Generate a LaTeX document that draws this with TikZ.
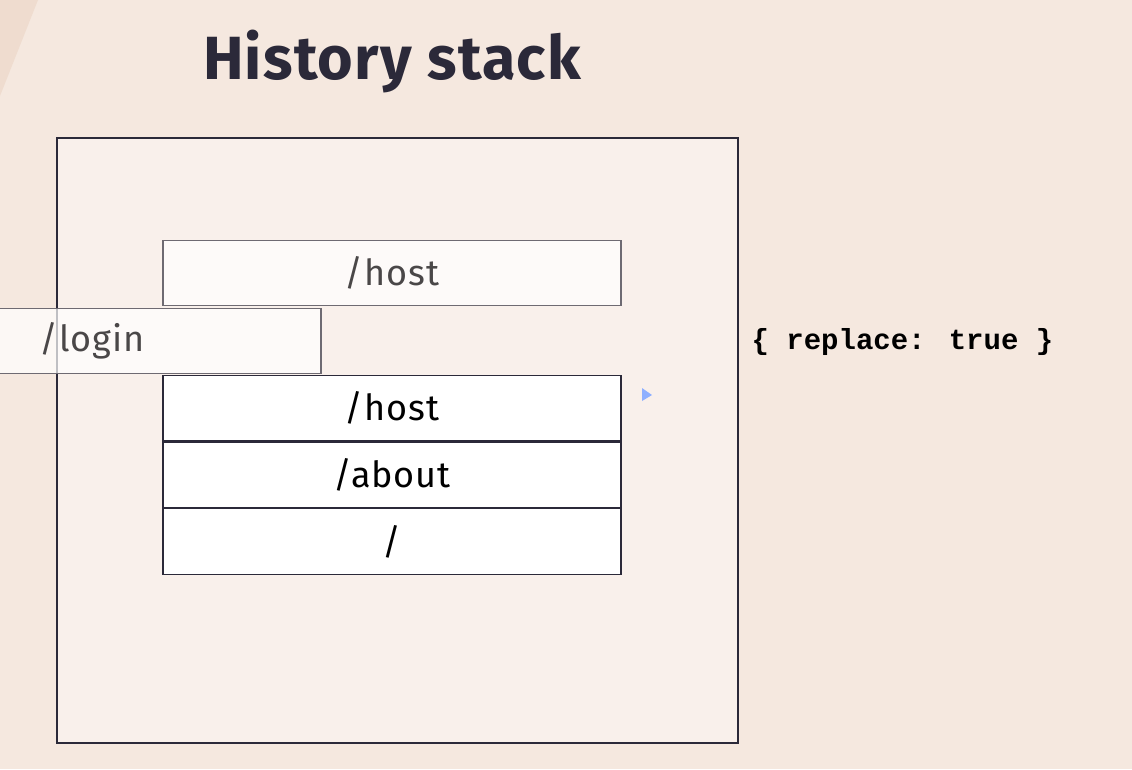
\documentclass[tikz,border=0pt]{standalone}
\usepackage{fontspec}
\setmainfont{Fira Sans}
\newfontfamily\codefont{Liberation Mono}
\newfontfamily\labelfont[LetterSpace=2.5]{Fira Sans}
\newfontfamily\headfont[LetterSpace=2]{Fira Sans}
\usetikzlibrary{positioning}

\definecolor{pagebg}{HTML}{F5E8DF}
\definecolor{pageshade}{HTML}{EFDCCF}
\definecolor{framefill}{HTML}{F9F0EB}
\definecolor{inkdark}{HTML}{2B2939}
\definecolor{ghostline}{HTML}{6E6A72}
\definecolor{ghosttext}{HTML}{4A4748}
\definecolor{cursorblue}{HTML}{8FB0FF}

\begin{document}
\begin{tikzpicture}[
                x = 1pt, y = -1pt, % one unit per pixel
                node distance = 0pt, % stack entries touch
                semithick % line style
            ]

            \tikzstyle{frame}=[draw = inkdark, fill = framefill, line width = 1.2pt,
            minimum width = 681pt, minimum height = 605pt, inner sep = 0pt]
            \tikzstyle{entry}=[draw = inkdark, fill = white, line width = 1.2pt,
            minimum width = 458pt, minimum height = 65.5pt, inner sep = 0pt,
            font = \labelfont\fontsize{36}{40}\selectfont]
            \tikzstyle{ghost}=[entry, draw = ghostline, fill = white,
            fill opacity = 0.7, text opacity = 1, text = ghosttext]

            \useasboundingbox[fill = pagebg] (0,0) rectangle (1132,769);
            \fill[pageshade] (0,0) -- (38,0) -- (0,96) -- cycle;

            \node (title) [text = inkdark, font = \headfont\fontsize{61}{66}\selectfont\bfseries]
            at (392,62) {History stack};

            \node (stack) [frame] at (397.5,440.5) {};

            \node (host) [entry] at (392,408) {/host}; \node (about) [entry,
            below = of host] {/about}; \node (root) [entry, below = of about]
            {/};

            \node (oldhost) [ghost] at (392,273) {/host}; \node (login)
            [ghost] at (92,341) {/login};

            \node (option) [anchor = west, font = \codefont\bfseries\fontsize{29}{32}\selectfont]
            at (748,342) {\{ replace: true \}};

            \fill[cursorblue] (642,388) -- (652,395) -- (642,401) -- cycle;

        \end{tikzpicture}
\end{document}
